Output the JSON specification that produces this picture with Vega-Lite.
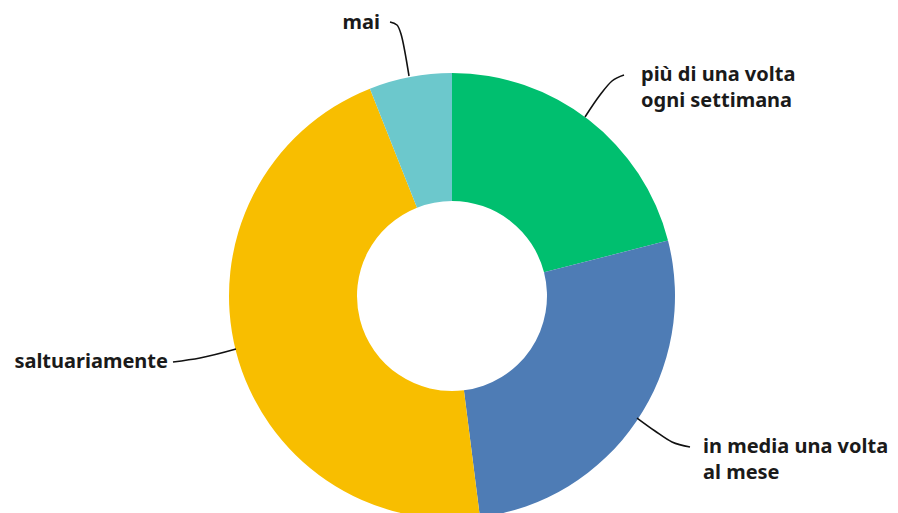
{
  "$schema": "https://vega.github.io/schema/vega-lite/v6.json",
  "width": 898,
  "height": 513,
  "padding": 0,
  "autosize": {"type": "none"},
  "background": "white",
  "config": {"view": {"stroke": null}},
  "datasets": {
    "slices": [
      {"categoria": "più di una volta ogni settimana", "quota": 21, "ordine": 1},
      {"categoria": "in media una volta al mese", "quota": 27, "ordine": 2},
      {"categoria": "saltuariamente", "quota": 46, "ordine": 3},
      {"categoria": "mai", "quota": 6, "ordine": 4}
    ],
    "labelsRight": [
      {"testo": "più di una volta\nogni settimana", "x": 189, "y": 221},
      {"testo": "in media una volta\nal mese", "x": 251, "y": -151}
    ],
    "labelsLeft": [
      {"testo": "saltuariamente", "x": -284, "y": -66},
      {"testo": "mai", "x": -72, "y": 273}
    ],
    "leaders": [
      {"id": "mai", "x": -62, "y": 274},
      {"id": "mai", "x": -55, "y": 271},
      {"id": "mai", "x": -51, "y": 262},
      {"id": "mai", "x": -43, "y": 220},
      {"id": "piu", "x": 133, "y": 179},
      {"id": "piu", "x": 148, "y": 201},
      {"id": "piu", "x": 160, "y": 215},
      {"id": "piu", "x": 172, "y": 221},
      {"id": "media", "x": 185, "y": -122},
      {"id": "media", "x": 203, "y": -135},
      {"id": "media", "x": 220, "y": -146},
      {"id": "media", "x": 238, "y": -151},
      {"id": "salt", "x": -279, "y": -66},
      {"id": "salt", "x": -252, "y": -62},
      {"id": "salt", "x": -216, "y": -53}
    ]
  },
  "layer": [
    {
      "data": {"name": "slices"},
      "mark": {"type": "arc", "outerRadius": 223, "innerRadius": 95},
      "encoding": {
        "x": {"datum": 0, "type": "quantitative", "scale": {"domain": [-452, 446], "nice": false, "zero": false}, "axis": null},
        "y": {"datum": 0, "type": "quantitative", "scale": {"domain": [-217, 296], "nice": false, "zero": false}, "axis": null},
        "theta": {"field": "quota", "type": "quantitative", "stack": true},
        "order": {"field": "ordine", "type": "quantitative"},
        "color": {
          "field": "categoria",
          "type": "nominal",
          "scale": {
            "domain": ["più di una volta ogni settimana", "in media una volta al mese", "saltuariamente", "mai"],
            "range": ["#00BF6F", "#4E7CB5", "#F8BE00", "#6CC8CC"]
          },
          "legend": null
        }
      }
    },
    {
      "data": {"name": "leaders"},
      "mark": {"type": "line", "interpolate": "monotone", "color": "#111111", "strokeWidth": 1.6},
      "encoding": {
        "x": {"field": "x", "type": "quantitative"},
        "y": {"field": "y", "type": "quantitative"},
        "detail": {"field": "id"}
      }
    },
    {
      "data": {"name": "labelsRight"},
      "mark": {"type": "text", "align": "left", "font": "Noto Sans", "fontSize": 20, "fontWeight": "bold", "color": "#1a1a1a", "baseline": "middle", "lineBreak": "\n", "lineHeight": 26},
      "encoding": {
        "x": {"field": "x", "type": "quantitative"},
        "y": {"field": "y", "type": "quantitative"},
        "text": {"field": "testo"}
      }
    },
    {
      "data": {"name": "labelsLeft"},
      "mark": {"type": "text", "align": "right", "font": "Noto Sans", "fontSize": 20, "fontWeight": "bold", "color": "#1a1a1a", "baseline": "middle", "lineBreak": "\n", "lineHeight": 26},
      "encoding": {
        "x": {"field": "x", "type": "quantitative"},
        "y": {"field": "y", "type": "quantitative"},
        "text": {"field": "testo"}
      }
    }
  ]
}
